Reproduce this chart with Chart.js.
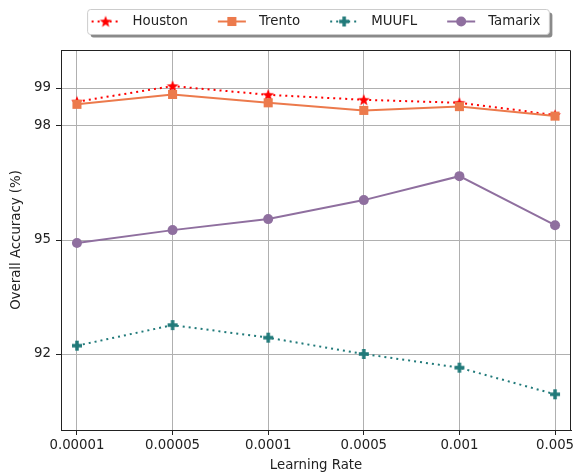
<!DOCTYPE html>
<html><head><meta charset="utf-8">
<script src="https://cdn.jsdelivr.net/npm/chart.js@4"></script>
<style>html,body{margin:0;padding:0;background:#fff;overflow:hidden}#c{display:block}</style>
</head><body>
<canvas id="c" width="573" height="474"></canvas>
<script>
// ---- data ----
const categories = ['0.00001', '0.00005', '0.0001', '0.0005', '0.001', '0.005'];
const houston = [98.64, 99.05, 98.82, 98.69, 98.61, 98.29];
const trento  = [98.57, 98.83, 98.61, 98.41, 98.51, 98.26];
const muufl   = [92.22, 92.76, 92.43, 92.00, 91.64, 90.94];
const tamarix = [94.92, 95.26, 95.55, 96.05, 96.68, 95.39];
const yTicks = [92, 95, 98, 99];
const seriesNames = ['Houston', 'Trento', 'MUUFL', 'Tamarix'];

const FONT = '"DejaVu Sans", "Liberation Sans", sans-serif';
const TXT = '#222222';

function starImg(color) {
  const c = document.createElement('canvas'); c.width = 14; c.height = 14;
  const g = c.getContext('2d'); g.fillStyle = color; g.beginPath();
  const R = 6.2, r = 2.6, cx = 7, cy = 7.4;
  for (let i = 0; i < 10; i++) {
    const rad = i % 2 ? r : R; const a = -Math.PI / 2 + i * Math.PI / 5;
    const px = cx + rad * Math.cos(a), py = cy + rad * Math.sin(a);
    i ? g.lineTo(px, py) : g.moveTo(px, py);
  }
  g.closePath(); g.fill(); return c;
}
function plusImg(color) {
  const c = document.createElement('canvas'); c.width = 12; c.height = 12;
  const g = c.getContext('2d'); g.fillStyle = color;
  g.fillRect(4.25, 1, 3.5, 10); g.fillRect(1, 4.25, 10, 3.5);
  return c;
}

const colors = {houston: '#ff0000', trento: '#ec7a4c', muufl: '#217a7a', tamarix: '#8f6f9f'};

function pts(arr) { return arr.map((y, i) => ({x: i, y})); }

const datasets = [
  {label: seriesNames[0], data: pts(houston), borderColor: colors.houston, backgroundColor: colors.houston,
   borderWidth: 2, borderDash: [2, 4], pointStyle: starImg(colors.houston), pointRadius: 5, pointBorderWidth: 0, order: 4},
  {label: seriesNames[1], data: pts(trento), borderColor: colors.trento, backgroundColor: colors.trento,
   borderWidth: 2, pointStyle: 'rect', pointRadius: 6.4, pointBorderWidth: 0, order: 3},
  {label: seriesNames[2], data: pts(muufl), borderColor: colors.muufl, backgroundColor: colors.muufl,
   borderWidth: 2, borderDash: [2, 4], pointStyle: plusImg(colors.muufl), pointRadius: 5, pointBorderWidth: 0, order: 2},
  {label: seriesNames[3], data: pts(tamarix), borderColor: colors.tamarix, backgroundColor: colors.tamarix,
   borderWidth: 2, pointStyle: 'circle', pointRadius: 5, pointBorderWidth: 0, order: 1}
];

function drawMarker(ctx, ds, x, y) {
  const s = ds.pointStyle;
  ctx.fillStyle = ds.backgroundColor;
  if (typeof s === 'object') { ctx.drawImage(s, x - s.width / 2, y - s.height / 2); return; }
  if (s === 'rect') { const h = Math.SQRT1_2 * ds.pointRadius; ctx.fillRect(x - h, y - h, 2 * h, 2 * h); return; }
  ctx.beginPath(); ctx.arc(x, y, ds.pointRadius, 0, Math.PI * 2); ctx.fill();
}

const framePlugin = {
  id: 'framePlugin',
  afterDraw(chart) {
    const ctx = chart.ctx, ca = chart.chartArea;
    ctx.save();
    // top + right spines
    ctx.strokeStyle = TXT; ctx.lineWidth = 1;
    ctx.beginPath();
    ctx.moveTo(Math.round(ca.left), Math.round(ca.top) + 0.5);
    ctx.lineTo(Math.round(ca.right) - 0.5, Math.round(ca.top) + 0.5);
    ctx.lineTo(Math.round(ca.right) - 0.5, Math.round(ca.bottom));
    ctx.stroke();

    // legend
    ctx.font = '13.3px ' + FONT;
    const sampleW = 28, gapText = 13, gapItem = 30;
    const dss = chart.data.datasets;
    const widths = dss.map(d => ctx.measureText(d.label).width);
    const total = widths.reduce((a, w) => a + sampleW + gapText + w, 0) + gapItem * (dss.length - 1);
    const cx = (ca.left + ca.right) / 2;
    let x = cx - total / 2;
    const fy = 21.5;
    const fl = x - 4, fr = x + total + 9, ft = 9.5, fb = 34.5;
    const rr = (l, t, w, h, r) => { ctx.beginPath(); ctx.roundRect(l, t, w, h, r); };
    ctx.fillStyle = '#8a8a8a';
    rr(fl + 3, ft + 3, fr - fl, fb - ft, 3); ctx.fill();
    ctx.fillStyle = '#ffffff'; ctx.strokeStyle = '#cccccc';
    rr(fl, ft, fr - fl, fb - ft, 3); ctx.fill(); ctx.stroke();
    dss.forEach((d, i) => {
      ctx.strokeStyle = d.borderColor; ctx.lineWidth = d.borderWidth;
      ctx.setLineDash(d.borderDash || []);
      ctx.beginPath(); ctx.moveTo(x, fy); ctx.lineTo(x + sampleW, fy); ctx.stroke();
      ctx.setLineDash([]);
      drawMarker(ctx, d, x + sampleW / 2, fy);
      ctx.fillStyle = TXT; ctx.textBaseline = 'middle'; ctx.textAlign = 'left';
      ctx.fillText(d.label, x + sampleW + gapText, fy);
      x += sampleW + gapText + widths[i] + gapItem;
    });
    ctx.restore();
  }
};

new Chart(document.getElementById('c'), {
  type: 'line',
  data: {datasets},
  plugins: [framePlugin],
  options: {
    responsive: false, animation: false, devicePixelRatio: 1,
    layout: {autoPadding: false, padding: {top: 50, right: 2, left: 0, bottom: 0}},
    plugins: {legend: {display: false}, tooltip: {enabled: false}},
    elements: {line: {tension: 0, fill: false}},
    scales: {
      x: {
        type: 'linear', min: -0.167, max: 5.167,
        afterBuildTicks: s => { s.ticks = categories.map((c, i) => ({value: i})); },
        afterFit: s => { s.height = 44; s.paddingLeft = 0; s.paddingRight = 0; },
        ticks: {callback: v => categories[Math.round(v)], autoSkip: false, maxRotation: 0,
                font: {family: FONT, size: 13.3}, color: TXT, padding: 3},
        grid: {color: '#b0b0b0', lineWidth: 1, tickLength: 5, tickColor: TXT},
        border: {color: TXT, width: 1},
        title: {display: true, text: 'Learning Rate', font: {family: FONT, size: 13.3}, color: TXT,
                padding: {top: 0, bottom: 0}}
      },
      y: {
        type: 'linear', min: 90, max: 100,
        afterBuildTicks: s => { s.ticks = yTicks.map(v => ({value: v})); },
        afterFit: s => { s.width = 61; },
        ticks: {font: {family: FONT, size: 13.3}, color: TXT, padding: 5},
        grid: {color: '#b0b0b0', lineWidth: 1, tickLength: 5, tickColor: TXT},
        border: {color: TXT, width: 1},
        title: {display: true, text: 'Overall Accuracy (%)', font: {family: FONT, size: 13.3}, color: TXT,
                padding: {top: 9, bottom: 0}}
      }
    }
  }
});
</script>
</body></html>
